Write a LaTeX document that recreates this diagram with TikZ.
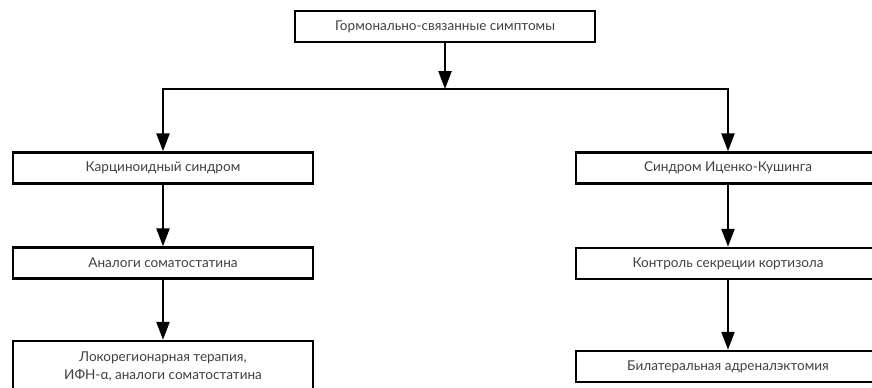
\documentclass[tikz,border=0pt]{standalone}
\usepackage{fontspec}
\setmainfont{Lato}
\usetikzlibrary{arrows.meta}
\begin{document}
\begin{tikzpicture}[x=1bp,y=-1bp,
  box/.style={draw=black, line width=2.4bp, rectangle, minimum width=300bp, minimum height=31bp,
    inner sep=0pt, align=center, text=black!75, font=\fontsize{13.6}{18}\selectfont},
  conn/.style={line width=2.4bp, -{Triangle[width=13bp,length=18bp]}}]
\useasboundingbox (0,0) rectangle (872,387);
\node[box] (top) at (445,26.5) {Гормонально-связанные симптомы};
\coordinate (j) at (445,89);
\node[box] (l1) at (163,168) {Карциноидный синдром};
\node[box] (l2) at (163,263) {Аналоги соматостатина};
\node[box, minimum height=52bp] (l3) at (163,367) {Локорегионарная терапия,\\ИФН-α, аналоги соматостатина};
\node[box, minimum width=304bp] (r1) at (728,168) {Синдром Иценко-Кушинга};
\node[box, minimum width=304bp] (r2) at (728,263.5) {Контроль секреции кортизола};
\node[box, minimum width=304bp] (r3) at (728,366.5) {Билатеральная адреналэктомия};
\draw[conn] (top) -- (j);
\draw[conn] (j) -| (l1);
\draw[conn] (j) -| (r1);
\draw[conn] (l1) -- (l2);
\draw[conn] (l2) -- (l3);
\draw[conn] (r1) -- (r2);
\draw[conn] (r2) -- (r3);
\end{tikzpicture}
\end{document}
